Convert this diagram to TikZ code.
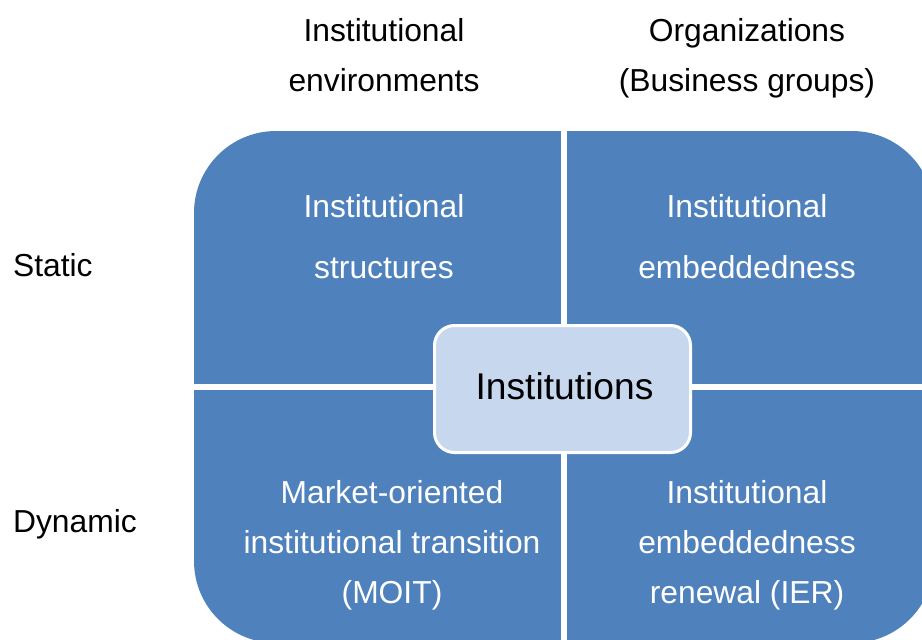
\documentclass[tikz,border=0pt]{standalone}
\usepackage{fontspec}
\setmainfont{Liberation Sans}
\usetikzlibrary{positioning}
\definecolor{quadblue}{HTML}{4F81BD}
\definecolor{centreblue}{HTML}{C7D8EE}
\tikzstyle{header} = [align=center, font=\fontsize{15.9}{25}\selectfont]
\tikzstyle{rowlabel} = [anchor=west, font=\fontsize{15.9}{19}\selectfont]
\tikzstyle{quadtext} = [text=white, align=center, font=\fontsize{15.9}{25}\selectfont]
\tikzstyle{gap} = [white, line width=2.6pt]
\tikzstyle{centre} = [rectangle, rounded corners=10pt, draw=white, line width=1.5pt, fill=centreblue, minimum width=128pt, minimum height=63.5pt, font=\fontsize{18.6}{22}\selectfont]

\begin{document}
\begin{tikzpicture}[x=0.5pt, y=-0.5pt]
    \clip (0,0) rectangle (922,639);

    % the four quadrants, split by a white cross
    \fill[quadblue, rounded corners=41pt] (194,131) rectangle (934,643);
    \draw[gap] (564,131) -- (564,643);
    \draw[gap] (194,387) -- (934,387);

    \node (inst) [centre] at (562.5,389) {};
    \node (instlabel) [font=\fontsize{18.6}{22}\selectfont] at (564.5,386.5) {Institutions};

    % column headers
    \node (envs) [header] at (384,55) {Institutional\\environments};
    \node (orgs) [header] at (747,58) {Organizations\\(Business groups)};

    % row labels
    \node (static) [rowlabel] at (6,265) {Static};
    \node (dynamic) [rowlabel] at (6,524) {Dynamic};

    \node (struct) [quadtext, font=\fontsize{15.9}{30.5}\selectfont] at (384,237) {Institutional\\structures};
    \node (embed) [quadtext, font=\fontsize{15.9}{30.5}\selectfont] at (747,237) {Institutional\\embeddedness};
    \node (moit) [quadtext] at (392,545) {Market-oriented\\institutional transition\\(MOIT)};
    \node (ier) [quadtext] at (747,545) {Institutional\\embeddedness\\renewal (IER)};

\end{tikzpicture}
\end{document}
